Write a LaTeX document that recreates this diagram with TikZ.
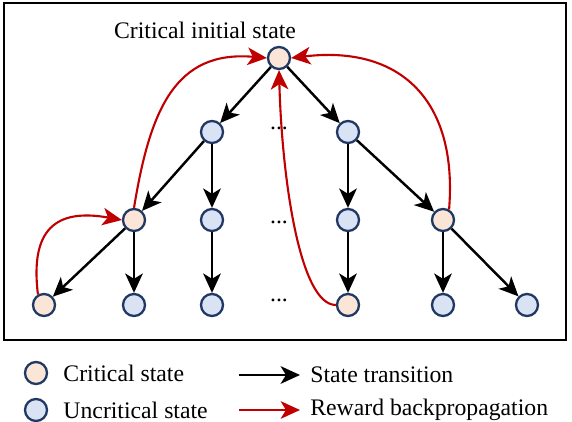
\documentclass[tikz,border=0pt]{standalone}
\usepackage{fontspec}
\setmainfont{Liberation Serif}
\usepackage{xcolor}
\definecolor{stblue}{HTML}{1F3864}
\definecolor{critfill}{HTML}{FBE5D6}
\definecolor{uncritfill}{HTML}{DAE3F3}
\definecolor{backred}{HTML}{C00000}
\usetikzlibrary{arrows.meta,positioning}

\begin{document}
\begin{tikzpicture}[x=0.02cm, y=-0.02cm,
        crit/.style={circle, draw=stblue, line width=1.3pt, fill=critfill,
                     minimum size=0.44cm, inner sep=0pt},
        uncrit/.style={crit, fill=uncritfill},
        trans/.style={-{Stealth[length=11pt, width=10pt, inset=3pt]}, line width=1.4pt, black},
        back/.style={-{Stealth[length=11pt, width=10pt, inset=3pt]}, line width=1.2pt, backred},
        lbl/.style={font=\fontsize{13.5}{16}\selectfont, inner sep=0pt}
      ]
        \useasboundingbox (0,0) rectangle (572,422);
        % Frame
        \draw[line width=1.3pt] (4,3) rectangle (566,340);

        % Root
        \node[crit] (root) at (279, 58) {};
        \node[lbl] (title) at (205, 30) {Critical initial state};

        % First level
        \node[uncrit] (l1a) at (212, 132) {};
        \node[uncrit] (l1b) at (348, 132) {};

        % Second level
        \node[crit]   (l2a) at (134, 220) {};
        \node[uncrit] (l2b) at (212, 220) {};
        \node[uncrit] (l2c) at (348, 220) {};
        \node[crit]   (l2d) at (443, 220) {};

        % Third level
        \node[crit]   (l3a) at (44, 305) {};
        \node[uncrit] (l3b) at (134, 305) {};
        \node[uncrit] (l3c) at (212, 305) {};
        \node[crit]   (l3d) at (348, 305) {};
        \node[uncrit] (l3e) at (443, 305) {};
        \node[uncrit] (l3f) at (527, 305) {};

        % Ellipsis
        \node[lbl] (dots1) at (279, 128) {...};
        \node[lbl] (dots2) at (279, 222) {...};
        \node[lbl] (dots3) at (279, 300) {...};

        % State transitions
        \draw[trans] (root) -- (l1a);
        \draw[trans] (root) -- (l1b);
        \draw[trans] (l1a) -- (l2a);
        \draw[trans] (l1a) -- (l2b);
        \draw[trans] (l1b) -- (l2c);
        \draw[trans] (l1b) -- (l2d);
        \draw[trans] (l2a) -- (l3a);
        \draw[trans] (l2a) -- (l3b);
        \draw[trans] (l2b) -- (l3c);
        \draw[trans] (l2c) -- (l3d);
        \draw[trans] (l2d) -- (l3e);
        \draw[trans] (l2d) -- (l3f);

        % Reward backpropagation
        \draw[back] (l2a.north) .. controls (150,110) and (175,50) .. (root.west);
        \draw[back] (l3a.120) .. controls (30,230) and (55,208) .. (l2a.west);
        \draw[back] (l3d.west) .. controls (300,305) and (282,180) .. (root.south);
        \draw[back] (l2d.60) .. controls (458,100) and (400,45) .. (root.east);

        % Legend
        \node[crit]   (legc) at (36, 373) {};
        \node[lbl, right=0.3cm of legc] (legctxt) {Critical state};
        \node[uncrit] (legu) at (36, 410) {};
        \node[lbl, right=0.3cm of legu] (legutxt) {Uncritical state};
        \coordinate (ta) at (239, 375);
        \coordinate (tb) at (300, 375);
        \coordinate (ba) at (239, 410);
        \coordinate (bb) at (300, 410);
        \draw[trans] (ta) -- (tb);
        \draw[back] (ba) -- (bb);
        \node[lbl, right=0.2cm of tb] (legttxt) {State transition};
        \node[lbl, right=0.2cm of bb] (legbtxt) {Reward backpropagation};
      \end{tikzpicture}
\end{document}
